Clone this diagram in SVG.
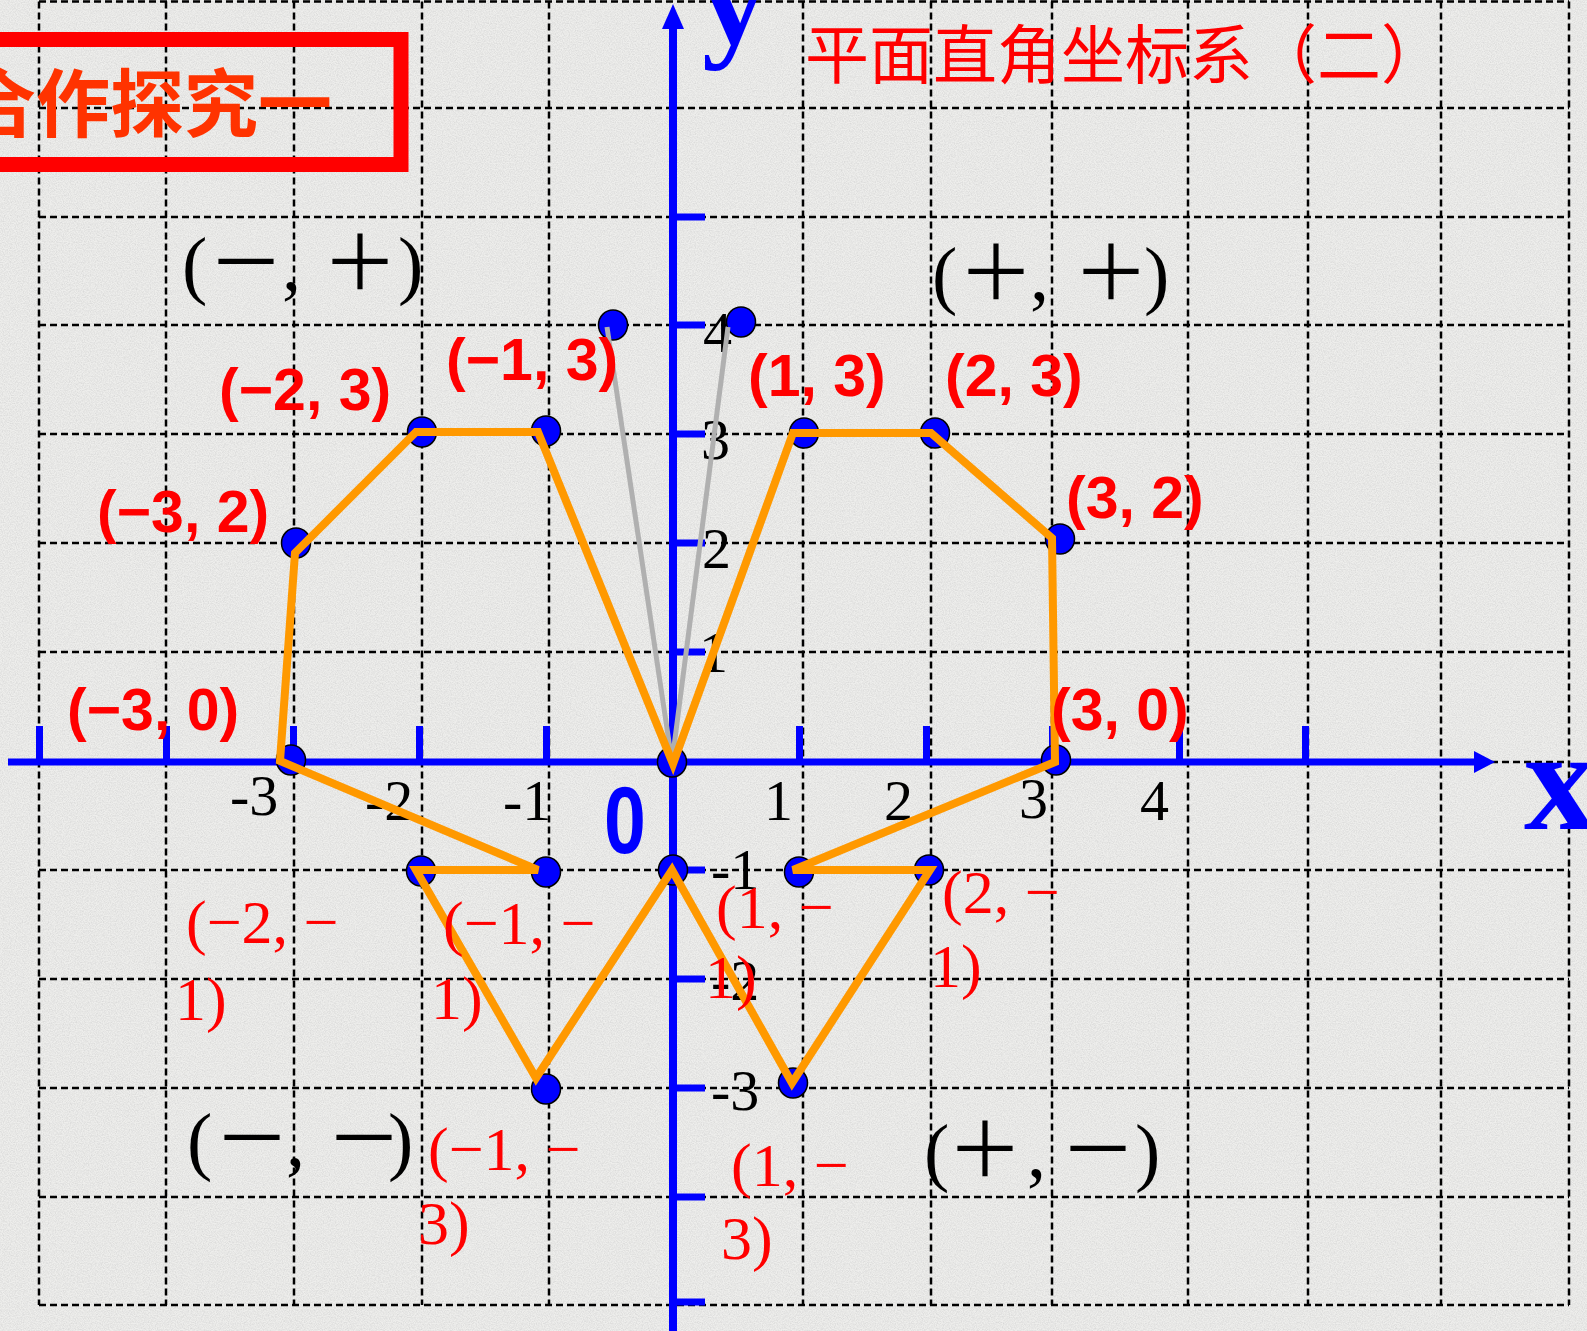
<svg xmlns="http://www.w3.org/2000/svg" width="1587" height="1331" viewBox="0 0 1587 1331">
<defs>
<filter id="paper" x="0" y="0" width="100%" height="100%">
<feTurbulence type="fractalNoise" baseFrequency="0.85" numOctaves="2" seed="7"/>
<feColorMatrix type="matrix" values="0 0 0 0 0.6  0 0 0 0 0.6  0 0 0 0 0.6  1.1 0 0 0 -0.36"/>
</filter>
<style>
.grid{fill:none;stroke:#000;stroke-width:2.5;stroke-dasharray:7 4}
.axis{fill:#0000ff;stroke:none}
.dot{fill:#0000ff;stroke:#000;stroke-width:1.5}
.orange{fill:none;stroke:#ff9900;stroke-width:8;stroke-linejoin:miter;stroke-miterlimit:3}
.gray{fill:none;stroke:#b0b0b0;stroke-width:5}
.num{font-family:"Liberation Serif","Times New Roman",serif;font-size:58px;fill:#000}
.quad{font-family:"Liberation Serif","Noto Sans CJK SC",serif;font-size:76px;fill:#000}
.quad .w{font-family:"Noto Sans CJK SC",sans-serif}
.rb{font-family:"Liberation Sans",Arial,sans-serif;font-weight:bold;font-size:59px;fill:#ff0000}
.rs{font-family:"Liberation Serif","Times New Roman",serif;font-size:62px;fill:#ff0000}
</style>
</defs>
<g id="background">
<rect x="0" y="0" width="1587" height="1331" fill="#eeeeec"/>
<rect x="0" y="0" width="1587" height="1331" filter="url(#paper)"/>
</g>
<g id="grid">
<path class="grid" d="M39 1.5V1305M166 1.5V1305M294 1.5V1305M422 1.5V1305M549 1.5V1305M803 1.5V1305M931 1.5V1305M1052 1.5V1305M1188 1.5V1305M1308 1.5V1305M1441 1.5V1305M1569 1.5V1305"/>
<path class="grid" d="M39 1.5H1569M39 108H1569M39 217H1569M39 325H1569M39 434H1569M39 543H1569M39 652H1569M39 762H1569M39 870H1569M39 979H1569M39 1088H1569M39 1197H1569M39 1305H1569"/>
</g>
<g id="axes">
<rect class="axis" x="8" y="758.5" width="1468" height="7"/>
<polygon class="axis" points="1474,751 1495,762 1474,773"/>
<rect class="axis" x="669" y="26" width="8" height="1305"/>
<polygon class="axis" points="662,29 673,4 684,29"/>
<g id="x-ticks">
<rect class="axis" x="36" y="726" width="7" height="36"/>
<rect class="axis" x="163" y="726" width="7" height="36"/>
<rect class="axis" x="290" y="726" width="7" height="36"/>
<rect class="axis" x="416" y="726" width="7" height="36"/>
<rect class="axis" x="543" y="726" width="7" height="36"/>
<rect class="axis" x="796" y="726" width="7" height="36"/>
<rect class="axis" x="923" y="726" width="7" height="36"/>
<rect class="axis" x="1049" y="726" width="7" height="36"/>
<rect class="axis" x="1176" y="726" width="7" height="36"/>
<rect class="axis" x="1302" y="726" width="7" height="36"/>
</g>
<g id="y-ticks">
<rect class="axis" x="673" y="213.5" width="32" height="7"/>
<rect class="axis" x="673" y="321.5" width="32" height="7"/>
<rect class="axis" x="673" y="430.5" width="32" height="7"/>
<rect class="axis" x="673" y="539.5" width="32" height="7"/>
<rect class="axis" x="673" y="648.5" width="32" height="7"/>
<rect class="axis" x="673" y="866.5" width="32" height="7"/>
<rect class="axis" x="673" y="975.5" width="32" height="7"/>
<rect class="axis" x="673" y="1084.5" width="32" height="7"/>
<rect class="axis" x="673" y="1193.5" width="32" height="7"/>
<rect class="axis" x="673" y="1298.5" width="32" height="7"/>
</g>
<text x="702" y="44" font-family="Liberation Serif,serif" font-weight="bold" font-size="128" fill="#0000ff">y</text>
<text x="1524" y="829" font-family="Liberation Serif,serif" font-weight="bold" font-size="145" fill="#0000ff">x</text>
<text transform="translate(604,853) scale(0.8,1)" font-family="Liberation Sans,sans-serif" font-weight="bold" font-size="94" fill="#0000ff">0</text>
</g>
<g id="axis-numbers" class="num">
<text x="230" y="815">-3</text>
<text x="365" y="820">-2</text>
<text x="503" y="820">-1</text>
<text x="764" y="820">1</text>
<text x="884" y="820">2</text>
<text x="1019" y="818">3</text>
<text x="1140" y="820">4</text>
<text x="703" y="352">4</text>
<text x="701" y="459">3</text>
<text x="702" y="568">2</text>
<text x="699" y="672">1</text>
<text x="711" y="889">-1</text>
<text x="711" y="1000">-2</text>
<text x="711" y="1110">-3</text>
</g>
<g id="points">
<ellipse id="p-3_0" class="dot" cx="291" cy="760" rx="14.5" ry="15"/>
<ellipse id="p-3_2" class="dot" cx="296" cy="543" rx="14.5" ry="15"/>
<ellipse id="p-2_3" class="dot" cx="422" cy="432" rx="14.5" ry="15"/>
<ellipse id="p-1_3" class="dot" cx="546" cy="431" rx="14.5" ry="15"/>
<ellipse id="p-ant-l" class="dot" cx="613" cy="325" rx="14.5" ry="15"/>
<ellipse id="p-ant-r" class="dot" cx="741" cy="322" rx="14.5" ry="15"/>
<ellipse id="p-0_0" class="dot" cx="672" cy="762" rx="14.5" ry="15"/>
<ellipse id="p1_3" class="dot" cx="804" cy="433" rx="14.5" ry="15"/>
<ellipse id="p2_3" class="dot" cx="935" cy="433" rx="14.5" ry="15"/>
<ellipse id="p3_2" class="dot" cx="1060" cy="539" rx="14.5" ry="15"/>
<ellipse id="p3_0" class="dot" cx="1056" cy="760" rx="14.5" ry="15"/>
<ellipse id="p0_-1" class="dot" cx="673" cy="870" rx="14.5" ry="15"/>
<ellipse id="p-2_-1" class="dot" cx="421" cy="871" rx="14.5" ry="15"/>
<ellipse id="p-1_-1" class="dot" cx="546" cy="872" rx="14.5" ry="15"/>
<ellipse id="p-1_-3" class="dot" cx="546" cy="1089" rx="14.5" ry="15"/>
<ellipse id="p1_-1" class="dot" cx="799" cy="872" rx="14.5" ry="15"/>
<ellipse id="p2_-1" class="dot" cx="929" cy="870" rx="14.5" ry="15"/>
<ellipse id="p1_-3" class="dot" cx="793" cy="1083" rx="14.5" ry="15"/>
</g>
<g id="connectors">
<path class="gray" d="M672 762L607 327M672 762L728 327"/>
<polygon class="orange" points="673,764 538,432 416,432 295,553 280,761 538,870 416,870 536,1078 672,870 792,1083 930,870 793,870 1055,762 1052,538 931,433 793,433"/>
</g>
<g id="title">
<rect x="-20" y="39.5" width="421" height="125" fill="none" stroke="#ff0000" stroke-width="15"/>
<text x="-38" y="131" font-family="Noto Sans CJK SC,sans-serif" font-weight="bold" font-size="74" fill="#ff3300">合作探究一</text>
<text x="805" y="78" font-family="Noto Sans CJK SC,sans-serif" font-size="64" fill="#ff0000">平面直角坐标系（二）</text>
</g>
<g id="quadrant-labels" class="quad">
<text y="290"><tspan x="182">(</tspan><tspan class="w" x="208">－</tspan><tspan x="282">,</tspan><tspan class="w" x="322">＋</tspan><tspan x="398">)</tspan></text>
<text y="300"><tspan x="932">(</tspan><tspan class="w" x="958">＋</tspan><tspan x="1030">,</tspan><tspan class="w" x="1073">＋</tspan><tspan x="1144">)</tspan></text>
<text y="1166"><tspan x="187">(</tspan><tspan class="w" x="214">－</tspan><tspan x="286">,</tspan><tspan class="w" x="326">－</tspan><tspan x="388">)</tspan></text>
<text y="1177"><tspan x="924">(</tspan><tspan class="w" x="947">＋</tspan><tspan x="1027">,</tspan><tspan class="w" x="1060">－</tspan><tspan x="1135">)</tspan></text>
</g>
<g id="point-labels">
<text class="rb" x="219" y="410">(−2, 3)</text>
<text class="rb" x="446" y="380">(−1, 3)</text>
<text class="rb" x="97" y="532">(−3, 2)</text>
<text class="rb" x="67" y="730">(−3, 0)</text>
<text class="rb" x="748" y="396">(1, 3)</text>
<text class="rb" x="945" y="396">(2, 3)</text>
<text class="rb" x="1066" y="518">(3, 2)</text>
<text class="rb" x="1051" y="730">(3, 0)</text>
<text class="rs" x="186" y="943">(−2, −</text>
<text class="rs" x="175" y="1020">1)</text>
<text class="rs" x="443" y="944">(−1, −</text>
<text class="rs" x="431" y="1019">1)</text>
<text class="rs" x="716" y="928">(1, −</text>
<text class="rs" x="705" y="998">1)</text>
<text class="rs" x="942" y="913">(2, −</text>
<text class="rs" x="930" y="987">1)</text>
<text class="rs" x="428" y="1170">(−1, −</text>
<text class="rs" x="418" y="1244">3)</text>
<text class="rs" x="731" y="1186">(1, −</text>
<text class="rs" x="721" y="1259">3)</text>
</g>
</svg>
